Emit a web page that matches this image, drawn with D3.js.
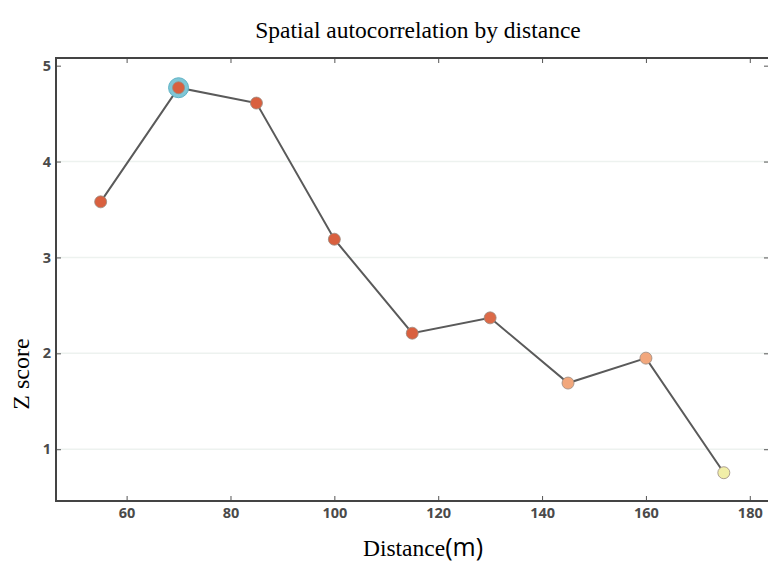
<!DOCTYPE html>
<html lang="en">
<head>
<meta charset="UTF-8">
<title>Spatial autocorrelation by distance</title>
<script src="https://d3js.org/d3.v7.min.js"></script>
<style>
  body { margin: 0; background: #fff; }
</style>
</head>
<body>
<script>
// data
var distances = [55, 70, 85, 100, 115, 130, 145, 160, 175]
var zScores = [3.58, 4.77, 4.61, 3.19, 2.21, 2.37, 1.69, 1.95, 0.755]
var pointColors = ["#d9603f", "#d9603f", "#d9603f", "#d9603f", "#d9603f", "#dc6a48", "#f2a77c", "#f2a77c", "#f1eea8"]
var peakIndex = 1
var xTicks = [60, 80, 100, 120, 140, 160, 180]
var yTicks = [1, 2, 3, 4, 5]

var width = 768, height = 563
// plot box edges (window.top is reserved, so prefix them)
var plotLeft = 56, plotRight = 769, plotTop = 58, plotBottom = 501

var svg = d3.select("body").append("svg")
    .attr("width", width)
    .attr("height", height)

var x = d3.scaleLinear().domain([46.4, 183.7]).range([plotLeft, plotRight])
var y = d3.scaleLinear().domain([0.46, 5.08]).range([plotBottom, plotTop])

// faint grid lines
svg.append("g").selectAll("line")
    .data(yTicks.slice(0, 4))
    .enter().append("line")
    .attr("x1", plotLeft).attr("x2", plotRight)
    .attr("y1", d => y(d)).attr("y2", d => y(d))
    .attr("stroke", "#edf2ef")
    .attr("stroke-width", 1.5)

// axes, ticks point inward like the original
var tickStyle = g => {
    g.select(".domain").remove()
    g.selectAll("line").attr("stroke", "#555").attr("stroke-width", 1)
    g.selectAll("text")
        .attr("fill", "#4a4a4a")
        .style("font-family", "'Open Sans', sans-serif")
        .style("font-size", "14.5px")
        .style("font-weight", "700")
}

svg.append("g")
    .attr("transform", "translate(0," + plotBottom + ")")
    .call(d3.axisBottom(x).tickValues(xTicks).tickSizeInner(-5).tickSizeOuter(0).tickPadding(7))
    .call(tickStyle)

svg.append("g")
    .attr("transform", "translate(0," + plotTop + ")")
    .call(d3.axisTop(x).tickValues(xTicks).tickSizeInner(-5).tickSizeOuter(0).tickFormat(""))
    .call(tickStyle)

svg.append("g")
    .attr("transform", "translate(" + plotLeft + ",0)")
    .call(d3.axisLeft(y).tickValues(yTicks).tickFormat(d3.format("d")).tickSizeInner(-5).tickSizeOuter(0).tickPadding(5))
    .call(tickStyle)

svg.append("g")
    .attr("transform", "translate(" + plotRight + ",0)")
    .call(d3.axisRight(y).tickValues(yTicks).tickSizeInner(-5).tickSizeOuter(0).tickFormat(""))
    .call(tickStyle)

// frame
svg.append("rect")
    .attr("x", plotLeft).attr("y", plotTop)
    .attr("width", plotRight - plotLeft).attr("height", plotBottom - plotTop)
    .attr("fill", "none")
    .attr("stroke", "#444")
    .attr("stroke-width", 2)

var pts = distances.map((d, i) => ({ d: d, z: zScores[i], c: pointColors[i] }))

svg.append("path")
    .datum(pts)
    .attr("fill", "none")
    .attr("stroke", "#5a5a5a")
    .attr("stroke-width", 2)
    .attr("d", d3.line().x(p => x(p.d)).y(p => y(p.z)))

// highlight ring on the peak
svg.append("circle")
    .attr("cx", x(pts[peakIndex].d))
    .attr("cy", y(pts[peakIndex].z))
    .attr("r", 10)
    .attr("fill", "#7fc6d6")
    .attr("stroke", "#5fb3c6")
    .attr("stroke-width", 1)

svg.append("g").selectAll("circle")
    .data(pts)
    .enter().append("circle")
    .attr("cx", p => x(p.d))
    .attr("cy", p => y(p.z))
    .attr("r", 6)
    .attr("fill", p => p.c)
    .attr("stroke", "#9a8a80")
    .attr("stroke-width", 0.8)

// titles
svg.append("text")
    .attr("x", 418).attr("y", 38)
    .attr("text-anchor", "middle")
    .style("font-family", "'Liberation Serif', serif")
    .style("font-size", "23.5px")
    .text("Spatial autocorrelation by distance")

var xl = svg.append("text")
    .attr("x", 423).attr("y", 556)
    .attr("text-anchor", "middle")
    .style("font-family", "'Liberation Serif', serif")
    .style("font-size", "23.5px")
xl.append("tspan").text("Distance")
xl.append("tspan").style("font-family", "'Open Sans', sans-serif").style("font-size", "25px").text("(m)")

svg.append("text")
    .attr("transform", "translate(29,374) rotate(-90)")
    .attr("text-anchor", "middle")
    .style("font-family", "'Liberation Serif', serif")
    .style("font-size", "24px")
    .text("Z score")
</script>
</body>
</html>
